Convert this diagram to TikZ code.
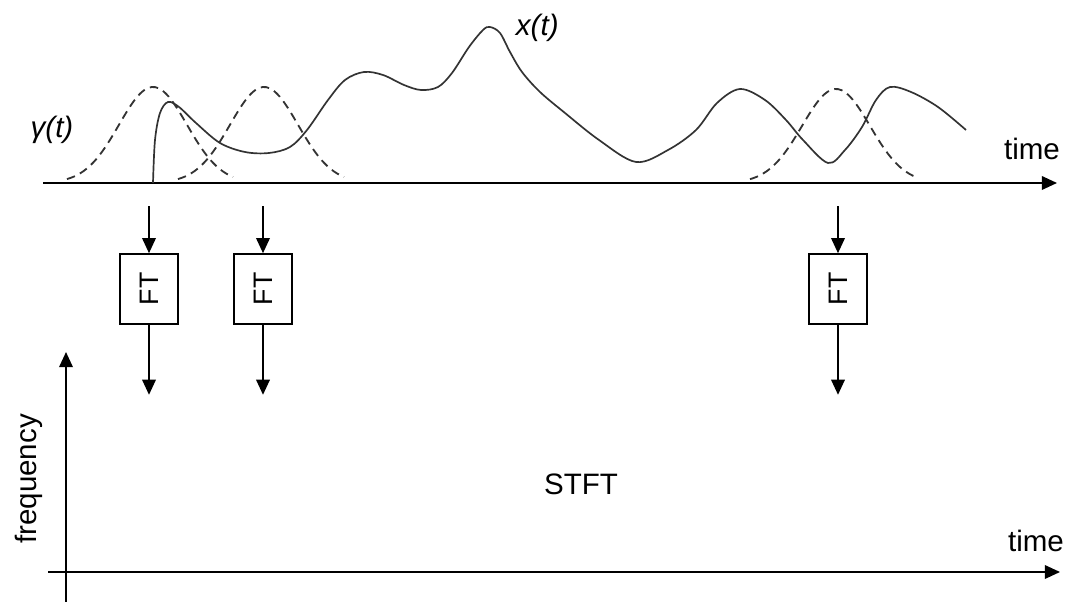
\documentclass[tikz,border=0pt]{standalone}
\usepackage{fontspec}
\usepackage{graphicx}
\setmainfont{Liberation Sans}
\usepackage{tikz}
\usetikzlibrary{arrows.meta, positioning}

\begin{document}
\begin{tikzpicture}[
  x=0.025cm, y=-0.025cm,
  arrow/.style={-{Triangle[length=3.8mm, width=3.4mm]}, line width=1.3pt},
  ft_block/.style={draw, rectangle, line width=1.1pt, minimum width=1.45cm, minimum height=1.75cm, inner sep=0pt, font=\fontsize{19}{23}\selectfont},
  signal/.style={line width=1.2pt, black!80},
  window/.style={line width=1.3pt, black!80, dash pattern=on 6pt off 4pt},
  label/.style={font=\fontsize{21}{25}\selectfont}
]
  \useasboundingbox (0,0) rectangle (1072,602);

  % Upper time axis with the signal
  \coordinate (t0) at (43,183);
  \coordinate (t1) at (1057,183);
  \draw[arrow] (t0) -- (t1);
  \node[label] (time_top) at (1032,149) {time};

  \draw[signal] plot[smooth, tension=0.55] coordinates {
    (153,183) (155,140) (160,113) (168,102) (179,107) (196,123) (220,143)
    (245,152) (269,153) (290,147) (307,130) (328,100) (345,80) (364,72)
    (383,75) (404,85) (421,90) (438,87) (452,73) (469,47) (483,30) (490,27)
    (500,33) (510,52) (522,72) (540,92) (565,113) (599,140) (636,162) (668,150)
    (696,130) (717,103) (740,89) (765,100) (786,120) (803,140) (828,163)
    (845,150) (862,127) (876,100) (890,87) (911,92) (938,107) (966,130)};
  \node[label, anchor=west] (x_label) at (511,28) {\textit{x(t)}};

  % Sliding windows
  \draw[window] plot[domain=-86:80, samples=50, smooth] ({153+(\x)}, {183-96*exp(-0.5*(\x/34)^2)});
  \draw[window] plot[domain=-86:80, samples=50, smooth] ({264+(\x)}, {183-96*exp(-0.5*(\x/34)^2)});
  \draw[window] plot[domain=-86:80, samples=50, smooth] ({836+(\x)}, {183-94*exp(-0.5*(\x/34)^2)});
  \node[label] (g_label) at (52,130) {\textit{γ(t)}};

  % Fourier transforms of the windowed pieces
  \node (ft1) [ft_block] at (149,289) {\rotatebox{90}{FT}};
  \node (ft2) [ft_block] at (263,289) {\rotatebox{90}{FT}};
  \node (ft3) [ft_block] at (838,289) {\rotatebox{90}{FT}};

  \coordinate[above=1.18cm of ft1] (ft1_in);
  \coordinate[above=1.18cm of ft2] (ft2_in);
  \coordinate[above=1.18cm of ft3] (ft3_in);
  \coordinate[below=1.75cm of ft1] (ft1_out);
  \coordinate[below=1.75cm of ft2] (ft2_out);
  \coordinate[below=1.75cm of ft3] (ft3_out);

  \draw[arrow] (ft1_in) -- (ft1);
  \draw[arrow] (ft2_in) -- (ft2);
  \draw[arrow] (ft3_in) -- (ft3);
  \draw[arrow] (ft1) -- (ft1_out);
  \draw[arrow] (ft2) -- (ft2_out);
  \draw[arrow] (ft3) -- (ft3_out);

  % Time-frequency plane
  \coordinate (f0) at (66,602);
  \coordinate (f1) at (66,352);
  \coordinate (s0) at (48,572);
  \coordinate (s1) at (1060,572);
  \draw[arrow] (f0) -- (f1);
  \draw[arrow] (s0) -- (s1);
  \node[label] (time_bot) at (1036,541) {time};
  \node[label, rotate=90] (freq) at (29,479) {frequency};
  \node[label] (stft) at (581,484) {STFT};

\end{tikzpicture}
\end{document}
